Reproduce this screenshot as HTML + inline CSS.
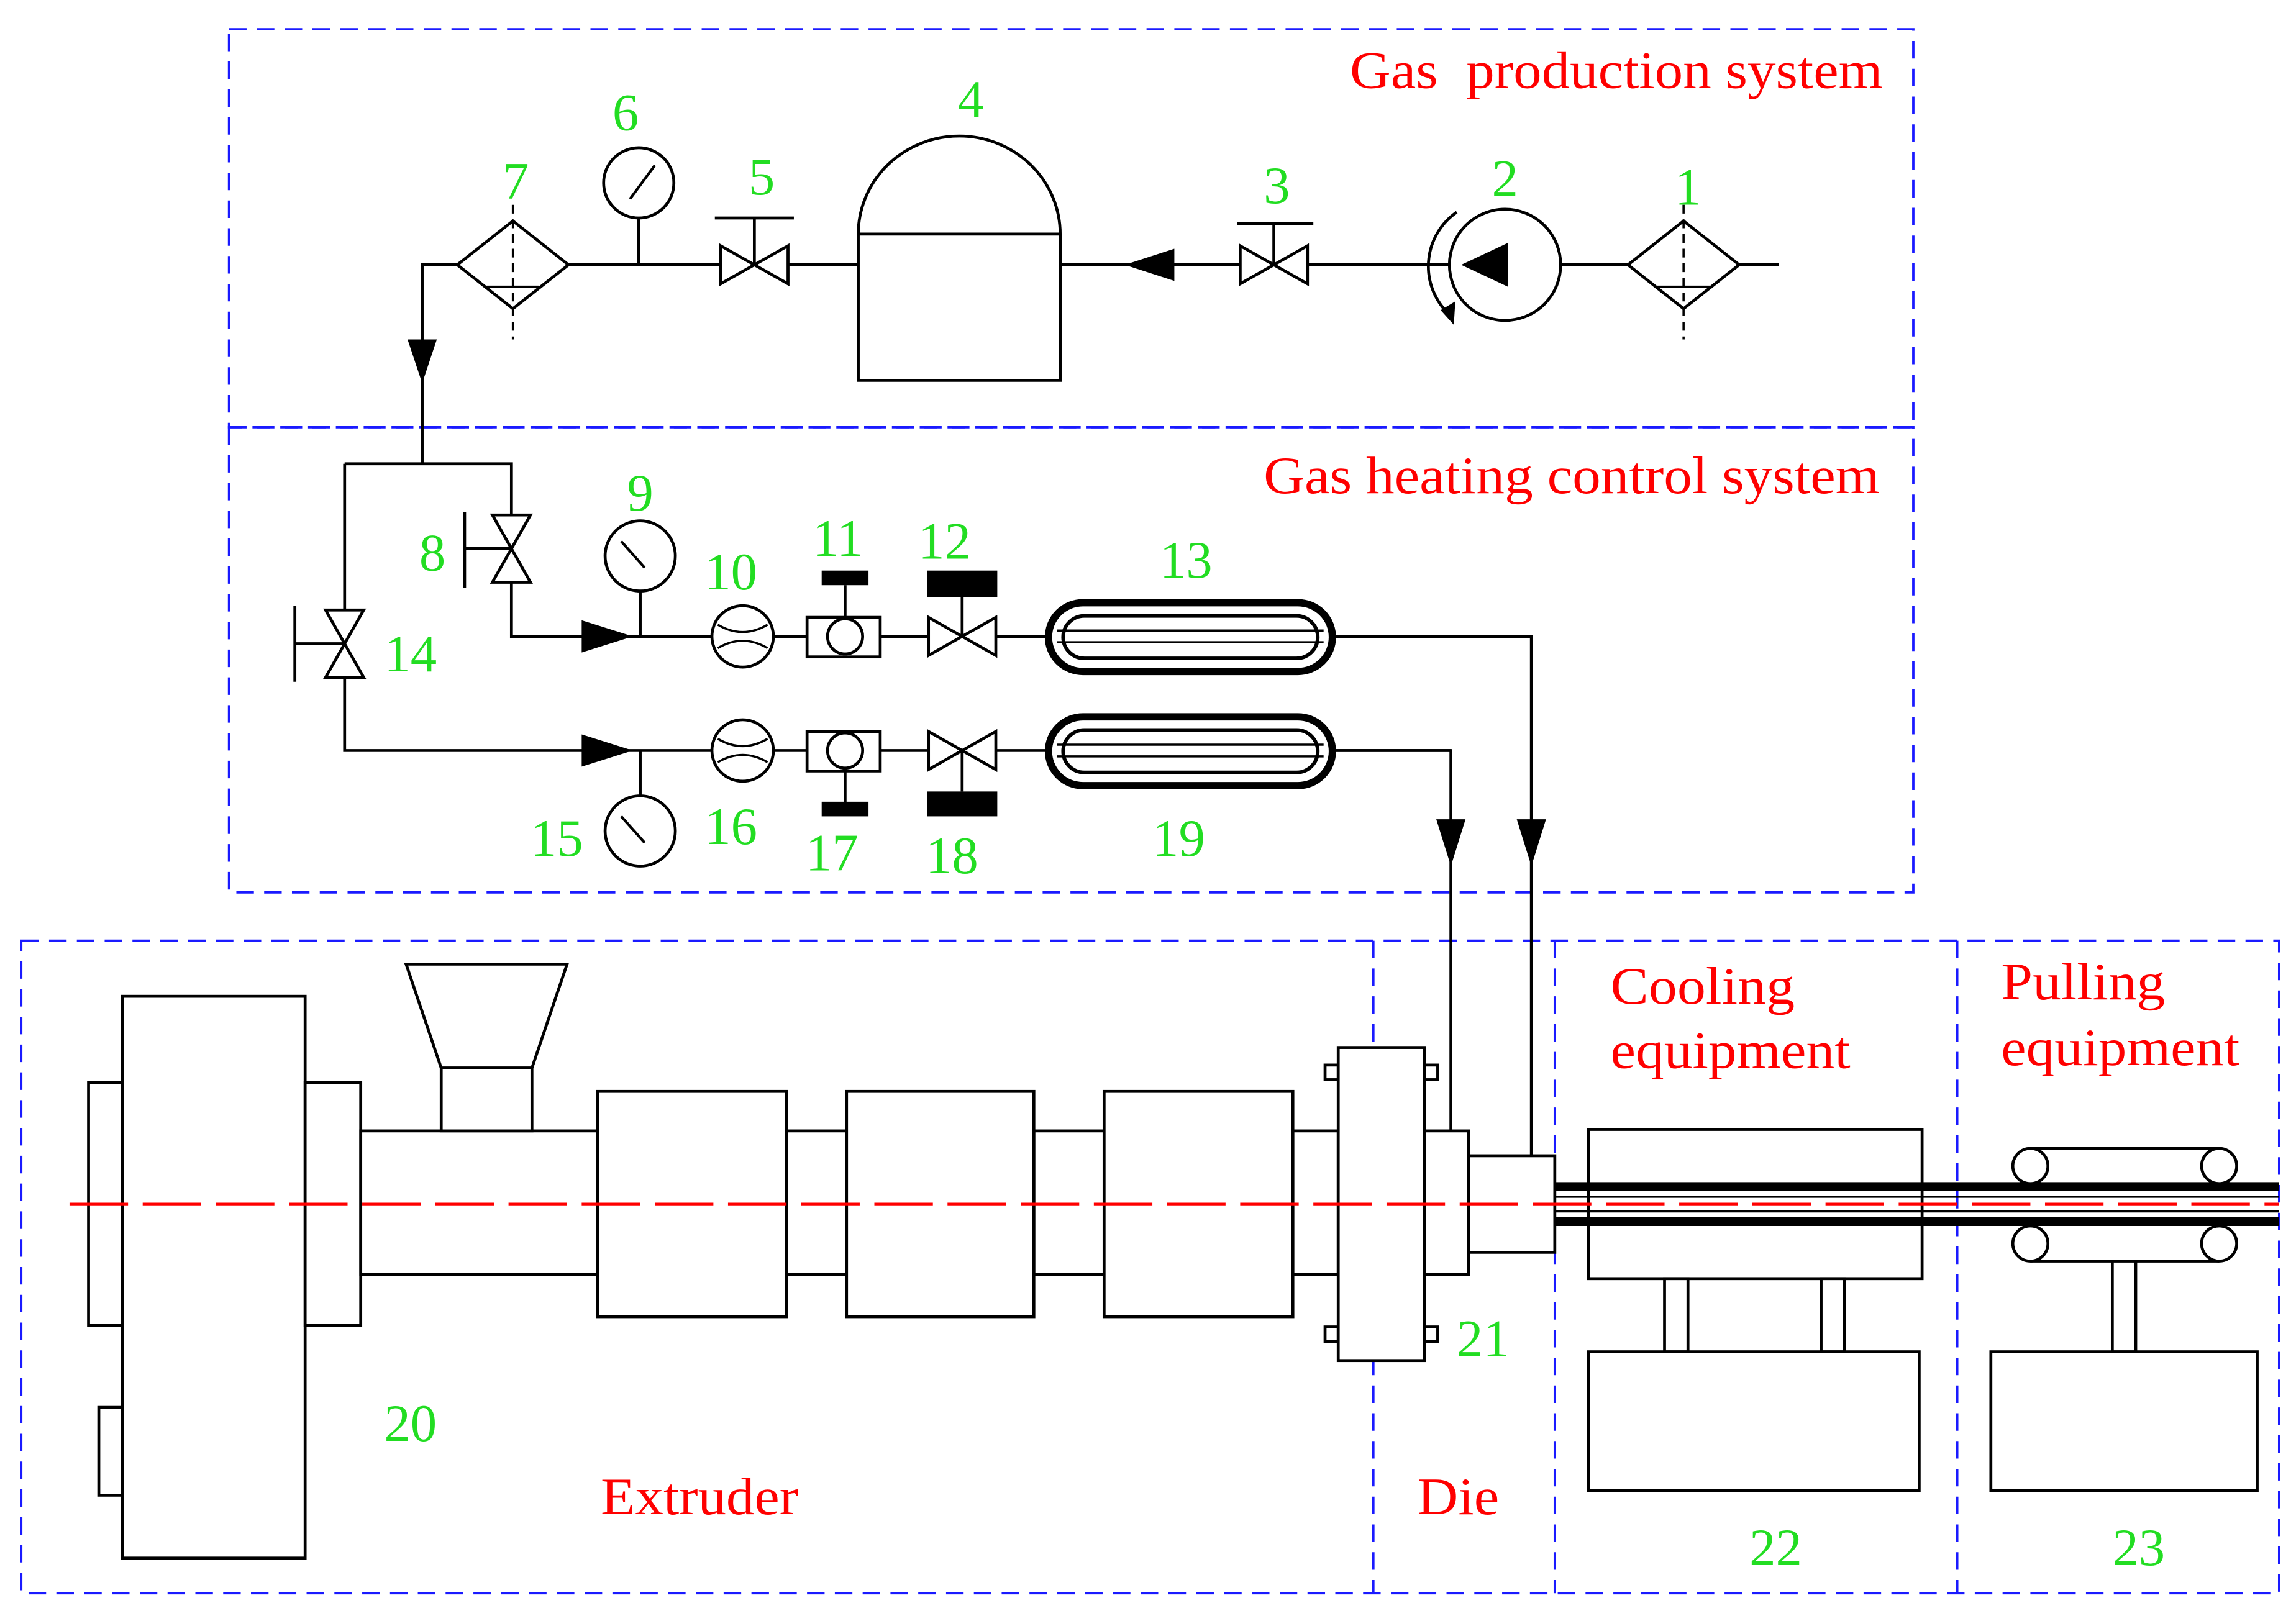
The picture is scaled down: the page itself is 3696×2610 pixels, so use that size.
<!DOCTYPE html>
<html><head><meta charset="utf-8"><style>html,body{margin:0;padding:0;background:#fff}svg{display:block}</style></head>
<body>
<svg width="3696" height="2610" viewBox="0 0 1568 1108" xmlns="http://www.w3.org/2000/svg">
<defs>
<g id="valveH"><path d="M-23,-13 L23,13 L23,-13 L-23,13 Z" fill="#fff" stroke="#000" stroke-width="2"/></g>
<g id="valveV"><path d="M-13,-23 L13,23 L-13,23 L13,-23 Z" fill="#fff" stroke="#000" stroke-width="2"/></g>
</defs>
<rect width="1568" height="1108" fill="#fff"/>
<g fill="none" stroke="#1a1aff" stroke-width="1.6" stroke-dasharray="12,7">
<rect x="156" y="20" width="1151" height="272"/>
<rect x="156" y="292" width="1151" height="318"/>
<rect x="14" y="643" width="1543" height="446"/>
<line x1="938" y1="643" x2="938" y2="1089"/>
<line x1="1062" y1="643" x2="1062" y2="1089"/>
<line x1="1337" y1="643" x2="1337" y2="1089"/>
</g>
<g font-family="Liberation Serif, serif" fill="#ff0000" font-size="36" lengthAdjust="spacingAndGlyphs">
<text x="922" y="60" textLength="364" lengthAdjust="spacingAndGlyphs" xml:space="preserve">Gas  production system</text>
<text x="863" y="337" textLength="421" lengthAdjust="spacingAndGlyphs">Gas heating control system</text>
<text x="1100" y="686" textLength="126" lengthAdjust="spacingAndGlyphs">Cooling</text>
<text x="1100" y="730" textLength="164" lengthAdjust="spacingAndGlyphs">equipment</text>
<text x="1367" y="683" textLength="112" lengthAdjust="spacingAndGlyphs">Pulling</text>
<text x="1367" y="728" textLength="163" lengthAdjust="spacingAndGlyphs">equipment</text>
<text x="410" y="1035" textLength="135" lengthAdjust="spacingAndGlyphs">Extruder</text>
<text x="968" y="1035" textLength="56" lengthAdjust="spacingAndGlyphs">Die</text>
</g>
<g stroke="#000" stroke-width="2" fill="none">
<polyline points="1215,181 288,181 288,317"/>
<polyline points="235,317 349,317 349,435 1046,435"/>
<polyline points="235,317 235,513 991,513"/>
<polyline points="910,435 1046,435 1046,790"/>
<polyline points="910,513 991,513 991,773"/>
</g>
<g stroke="#000" stroke-width="2" fill="#fff">
<path d="M1112,181 L1150,151 L1188,181 L1150,211 Z"/>
<line x1="1150" y1="140" x2="1150" y2="232" stroke-dasharray="6,4" stroke-width="1.5"/>
<line x1="1132" y1="196" x2="1168" y2="196" stroke-width="1.5"/>
<path d="M312,181 L350,151 L388,181 L350,211 Z"/>
<line x1="350" y1="140" x2="350" y2="232" stroke-dasharray="6,4" stroke-width="1.5"/>
<line x1="332" y1="196" x2="368" y2="196" stroke-width="1.5"/>
<circle cx="1028" cy="181" r="38"/>
</g>
<path d="M998,181 L1030,166 L1030,196 Z" fill="#000"/>
<path d="M995,145 A45,45 0 0 0 990,215" fill="none" stroke="#000" stroke-width="2"/>
<path d="M984,212 L993,222 L994,206 Z" fill="#000"/>
<use href="#valveH" x="870" y="181"/>
<line x1="845" y1="153" x2="897" y2="153" stroke="#000" stroke-width="2"/><line x1="870" y1="153" x2="870" y2="181" stroke="#000" stroke-width="2"/>
<use href="#valveH" x="515" y="181"/>
<line x1="488" y1="149" x2="542" y2="149" stroke="#000" stroke-width="2"/><line x1="515" y1="149" x2="515" y2="181" stroke="#000" stroke-width="2"/>
<path d="M768,181 L802,170 L802,192 Z" fill="#000"/>
<path d="M586,260 L586,160 A69,67 0 0 1 724,160 L724,260 Z M586,160 L724,160" fill="#fff" stroke="#000" stroke-width="2"/>
<g stroke="#000" stroke-width="2" fill="#fff">
<line x1="436" y1="149" x2="436" y2="181"/>
<circle cx="436" cy="125" r="24"/>
<line x1="437" y1="404" x2="437" y2="435"/>
<circle cx="437" cy="380" r="24"/>
<line x1="437" y1="513" x2="437" y2="544"/>
<circle cx="437" cy="568" r="24"/>
</g>
<g stroke="#000" stroke-width="1.8"><line x1="430" y1="136" x2="447" y2="113"/><line x1="440" y1="388" x2="424" y2="370"/><line x1="440" y1="576" x2="424" y2="558"/></g>
<path d="M288,262 L278,232 L298,232 Z" fill="#000"/>
<use href="#valveV" x="349" y="375"/>
<line x1="317" y1="350" x2="317" y2="402" stroke="#000" stroke-width="2"/><line x1="317" y1="375" x2="349" y2="375" stroke="#000" stroke-width="2"/>
<use href="#valveV" x="235" y="440"/>
<line x1="201" y1="414" x2="201" y2="466" stroke="#000" stroke-width="2"/><line x1="201" y1="440" x2="235" y2="440" stroke="#000" stroke-width="2"/>
<path d="M432,435 L397,424 L397,446 Z" fill="#000"/>
<path d="M432,513 L397,502 L397,524 Z" fill="#000"/>
<g stroke="#000" stroke-width="2" fill="#fff">
<circle cx="507" cy="435" r="21"/><circle cx="507" cy="513" r="21"/>
</g>
<g stroke="#000" stroke-width="1.5" fill="none">
<path d="M490,427 Q507,437 524,427 M490,443 Q507,433 524,443"/>
<path d="M490,505 Q507,515 524,505 M490,521 Q507,511 524,521"/>
</g>
<g stroke="#000" stroke-width="2" fill="#fff">
<rect x="551" y="422" width="50" height="27"/><circle cx="577" cy="435" r="12"/>
<line x1="577" y1="400" x2="577" y2="423"/>
<rect x="551" y="500" width="50" height="27"/><circle cx="577" cy="513" r="12"/>
<line x1="577" y1="526" x2="577" y2="550"/>
</g>
<rect x="561" y="390" width="32" height="10" fill="#000"/>
<rect x="561" y="548" width="32" height="10" fill="#000"/>
<use href="#valveH" x="657" y="435"/>
<line x1="657" y1="407" x2="657" y2="435" stroke="#000" stroke-width="2"/>
<rect x="633" y="390" width="48" height="18" fill="#000"/>
<use href="#valveH" x="657" y="513"/>
<line x1="657" y1="513" x2="657" y2="541" stroke="#000" stroke-width="2"/>
<rect x="633" y="541" width="48" height="17" fill="#000"/>
<g fill="#fff" stroke="#000">
<rect x="716" y="412" width="194" height="47" rx="23.5" stroke-width="5"/>
<rect x="726" y="421" width="174" height="29" rx="14.5" stroke-width="2.5"/>
<line x1="722" y1="431" x2="904" y2="431" stroke-width="1.5"/><line x1="722" y1="439" x2="904" y2="439" stroke-width="1.5"/>
<rect x="716" y="490" width="194" height="47" rx="23.5" stroke-width="5"/>
<rect x="726" y="499" width="174" height="29" rx="14.5" stroke-width="2.5"/>
<line x1="722" y1="509" x2="904" y2="509" stroke-width="1.5"/><line x1="722" y1="517" x2="904" y2="517" stroke-width="1.5"/>
</g>
<path d="M991,592 L981,560 L1001,560 Z" fill="#000"/>
<path d="M1046,592 L1036,560 L1056,560 Z" fill="#000"/>
<g stroke="#000" stroke-width="2" fill="#fff">
<rect x="60" y="740" width="23" height="166"/>
<rect x="67" y="962" width="16" height="60"/>
<rect x="83" y="681" width="125" height="384"/>
<rect x="208" y="740" width="38" height="166"/>
<rect x="246" y="773" width="162" height="98"/>
<path d="M277,659 L387,659 L363,730 L301,730 Z"/>
<rect x="301" y="730" width="62" height="43"/>
<rect x="537" y="773" width="41" height="98"/>
<rect x="706" y="773" width="48" height="98"/>
<rect x="883" y="773" width="31" height="98"/>
<rect x="408" y="746" width="129" height="154"/>
<rect x="578" y="746" width="128" height="154"/>
<rect x="754" y="746" width="129" height="154"/>
<rect x="905" y="728" width="9" height="10"/><rect x="905" y="907" width="9" height="10"/>
<rect x="973" y="728" width="9" height="10"/><rect x="973" y="907" width="9" height="10"/>
<rect x="914" y="716" width="59" height="214"/>
<rect x="973" y="773" width="30" height="98"/>
<rect x="1003" y="790" width="59" height="66"/>
<rect x="1085" y="772" width="228" height="102"/>
<rect x="1137" y="874" width="16" height="50"/><rect x="1244" y="874" width="16" height="50"/>
<rect x="1085" y="924" width="226" height="95"/>
<line x1="1387" y1="785" x2="1516" y2="785"/><line x1="1387" y1="862" x2="1516" y2="862"/>
<rect x="1443" y="862" width="16" height="62"/>
<rect x="1360" y="924" width="182" height="95"/>
</g>
<g stroke="#000" fill="#fff">
<line x1="1062" y1="811" x2="1557" y2="811" stroke-width="6"/>
<line x1="1062" y1="835" x2="1557" y2="835" stroke-width="6"/>
<line x1="1062" y1="818" x2="1557" y2="818" stroke-width="1.5"/>
<line x1="1062" y1="828" x2="1557" y2="828" stroke-width="1.5"/>
<circle cx="1387" cy="797" r="12" stroke-width="2"/><circle cx="1516" cy="797" r="12" stroke-width="2"/>
<circle cx="1387" cy="850" r="12" stroke-width="2"/><circle cx="1516" cy="850" r="12" stroke-width="2"/>
</g>
<line x1="47" y1="823" x2="1557" y2="823" stroke="#ff0000" stroke-width="1.8" stroke-dasharray="40,10"/>
<g font-family="Liberation Serif, serif" fill="#22dd22" font-size="36" text-anchor="middle" dominant-baseline="central">
<text x="1153" y="128">1</text><text x="1028" y="122">2</text><text x="872" y="127">3</text>
<text x="663" y="68">4</text><text x="520" y="121">5</text><text x="427" y="77">6</text>
<text x="352" y="124">7</text><text x="295" y="378">8</text><text x="437" y="337">9</text>
<text x="499" y="391">10</text><text x="572" y="368">11</text><text x="645" y="370">12</text>
<text x="810" y="383">13</text><text x="280" y="447">14</text><text x="380" y="573">15</text>
<text x="499" y="565">16</text><text x="568" y="583">17</text><text x="650" y="585">18</text>
<text x="805" y="573">19</text><text x="280" y="973">20</text><text x="1013" y="915">21</text>
<text x="1213" y="1058">22</text><text x="1461" y="1058">23</text>
</g>
</svg>
</body></html>
